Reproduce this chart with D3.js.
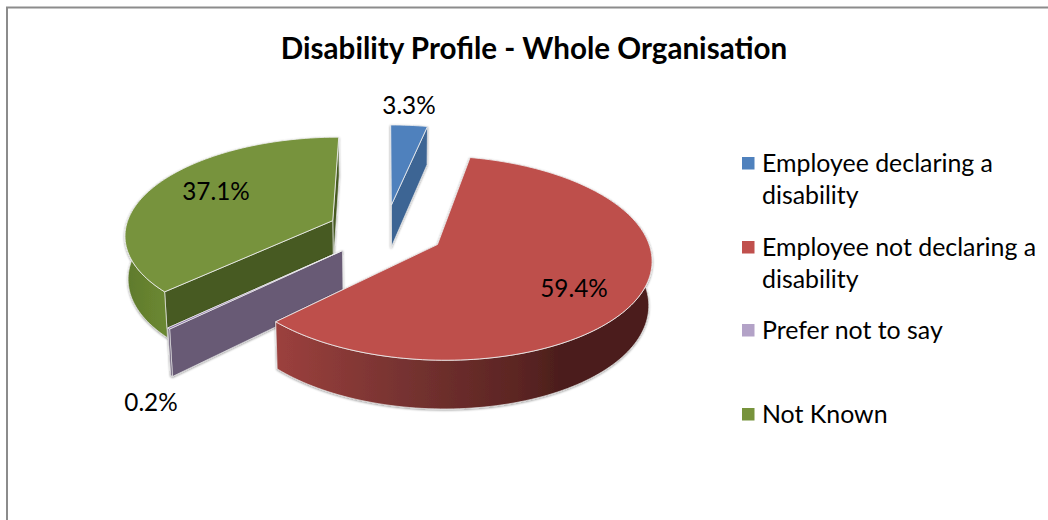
<!DOCTYPE html>
<html><head><meta charset="utf-8">
<script src="https://cdn.jsdelivr.net/npm/d3@7"></script>
<style>html,body{margin:0;padding:0;background:#fff}svg{display:block}text{font-family:Lato,"Open Sans",sans-serif;fill:#000}</style>
</head><body><svg id="c" width="1048" height="520"></svg>
<script>
const categories = ["Employee declaring a disability","Employee not declaring a disability","Prefer not to say","Not Known"];
const legendLines = [["Employee declaring a","disability"],["Employee not declaring a","disability"],["Prefer not to say"],["Not Known"]];
const values = [3.3,59.4,0.2,37.1];
const valueLabels = ["3.3%","59.4%","0.2%","37.1%"];
const topColors = ["#4F81BD","#BE4F4C","#8064A2","#77933C"];
const faceColors = ["#3E6594","#9A403D","#675A75","#465A21"];
const legendColors = ["#4F81BD","#C0504D","#B3A2C7","#77933C"];

const W=1048,H=520;
const svg=d3.select("#c");
const defs=svg.append("defs");
const f=defs.append("filter").attr("id","sh").attr("x","-10%").attr("y","-10%").attr("width","120%").attr("height","125%");
f.append("feDropShadow").attr("dx",0).attr("dy",1).attr("stdDeviation",1.2).attr("flood-color","#000").attr("flood-opacity",.4);
function grad(id,stops){const g=defs.append("linearGradient").attr("id",id);
  stops.forEach(([o,c])=>g.append("stop").attr("offset",o).attr("stop-color",c));}
grad("redWall",[[0,"#9C403D"],[.33,"#773331"],[.66,"#5A2422"],[.76,"#4B1E1C"],[1,"#4B1E1C"]]);
grad("greenWall",[[0,"#5F7A2C"],[1,"#6D8A32"]]);

// frame
svg.append("path").attr("d",`M7,${H}V7.5H${W}`).attr("fill","none").attr("stroke","#8c8c8c").attr("stroke-width",2);

// perspective projection of the unit-radius pie
const sx=d3.scaleLinear().domain([0,1]).range([385.5,593.5]);
const sy=d3.scaleLinear().domain([0,1]).range([231.2,231.2-208]);
const tilt=.466, depth=.13, thick=.21, sag=.012, explode=.28;
function project(X,Y,Z){const w=1+depth*Y+sag*Z;return [sx(X/w),sy((tilt*Y+thick*(-Z))/w)];}
// Z: 0 = top, 1 = bottom
const rad=Math.PI/180;
const pie=d3.pie().sort(null).value(d=>d);
const arcs=pie(values);
const line=d3.line();
function arcSamples(a0,a1){const n=Math.max(2,Math.ceil((a1-a0)/(rad*1.5)));return d3.range(n+1).map(i=>a0+(a1-a0)*i/n);}

const order=[3,0,2,1];
order.forEach(i=>{
  const a=arcs[i],mid=(a.startAngle+a.endAngle)/2;
  const ex=explode*Math.sin(mid),ey=explode*Math.cos(mid);
  const P=(r,t,z)=>project(ex+r*Math.sin(t),ey+r*Math.cos(t),z);
  const g=svg.append("g").attr("filter","url(#sh)");
  const fill=i==1?"url(#redWall)":i==3?"url(#greenWall)":faceColors[i];
  [a.endAngle,a.startAngle].forEach(t=>{
    g.append("path").attr("d",line([P(0,t,0),P(1,t,0),P(1,t,1),P(0,t,1)])+"Z")
     .attr("fill",faceColors[i]).attr("stroke","#e6e6e6").attr("stroke-width",.7);
  });
  const w0=Math.max(a.startAngle,60*rad),w1=Math.min(a.endAngle,300*rad);
  if(w1>w0){
    const ts=arcSamples(w0,w1);
    g.append("path").attr("d",line(ts.map(t=>P(1,t,0)).concat(ts.slice().reverse().map(t=>P(1,t,1))))+"Z")
     .attr("fill",fill).attr("stroke","#e6e6e6").attr("stroke-width",.7);
  }
  const ts=arcSamples(a.startAngle,a.endAngle);
  g.append("path").attr("d",line([P(0,0,0)].concat(ts.map(t=>P(1,t,0))))+"Z")
   .attr("fill",topColors[i]).attr("stroke","#f0f0f0").attr("stroke-width",.85).attr("stroke-linejoin","round");
});

// title
svg.append("text").attr("x",534).attr("y",59).attr("text-anchor","middle")
  .attr("font-size",29.6).attr("font-weight",700).text("Disability Profile - Whole Organisation");

// data labels
const labelAt=[[409,114],[574,297],[151,411],[216,200]];
svg.selectAll("text.v").data(valueLabels).join("text").attr("class","v")
  .attr("x",(d,i)=>labelAt[i][0]).attr("y",(d,i)=>labelAt[i][1])
  .attr("text-anchor","middle").attr("font-size",24.3).text(d=>d);

// legend
const rowY=[163,247,330,414];
const lg=svg.selectAll("g.l").data(categories).join("g").attr("class","l").attr("transform",(d,i)=>`translate(742,${rowY[i]})`);
lg.append("rect").attr("y",-6).attr("width",12.5).attr("height",12.5).attr("fill",(d,i)=>legendColors[i]);
lg.each(function(d,i){d3.select(this).selectAll("text").data(legendLines[i]).join("text")
  .attr("x",20).attr("y",(t,j)=>8.5+j*32).attr("font-size",24.9).text(t=>t);});
</script></body></html>
